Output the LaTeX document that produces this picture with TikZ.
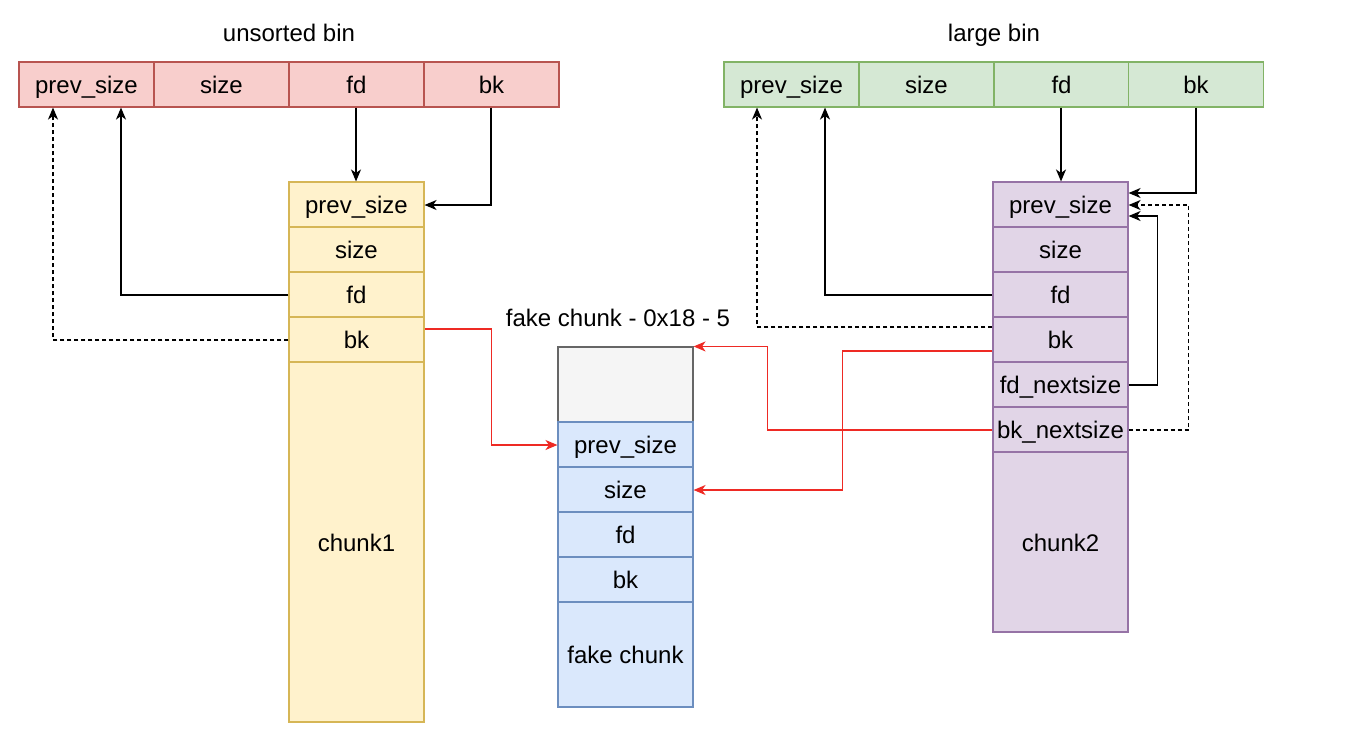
\documentclass[tikz,border=0pt]{standalone}
\usepackage{fontspec}
\setmainfont{Liberation Sans}
\usetikzlibrary{arrows.meta}
\definecolor{redfill}{HTML}{F8CECC}\definecolor{redline}{HTML}{B85450}
\definecolor{greenfill}{HTML}{D5E8D4}\definecolor{greenline}{HTML}{82B366}
\definecolor{yellowfill}{HTML}{FFF2CC}\definecolor{yellowline}{HTML}{D6B656}
\definecolor{bluefill}{HTML}{DAE8FC}\definecolor{blueline}{HTML}{6C8EBF}
\definecolor{grayfill}{HTML}{F5F5F5}\definecolor{grayline}{HTML}{666666}
\definecolor{purplefill}{HTML}{E1D5E7}\definecolor{purpleline}{HTML}{9673A6}
\definecolor{ptr}{HTML}{EE2A24}
\begin{document}
\begin{tikzpicture}[x=1pt,y=-1pt,
  every node/.style={font=\fontsize{24}{27}\selectfont, text height=20pt, text depth=2pt},
  cell/.style={draw, line width=1.1pt, minimum width=135pt, minimum height=45pt, inner sep=0pt, anchor=center},
  ubin/.style={cell, fill=redfill, draw=redline},
  lbin/.style={cell, fill=greenfill, draw=greenline},
  ychunk/.style={cell, fill=yellowfill, draw=yellowline},
  bchunk/.style={cell, fill=bluefill, draw=blueline},
  pchunk/.style={cell, fill=purplefill, draw=purpleline},
  link/.style={line width=1.4pt, -{Stealth[length=12pt,width=10pt,inset=3.5pt]}},
  dlink/.style={link, dash pattern=on 4pt off 3pt},
  rlink/.style={link, draw=ptr, color=ptr},
  title/.style={inner sep=0pt}]
\useasboundingbox (0,0) rectangle (1357,745);
% titles
\node[title] (tu) at (289,32) {unsorted bin};
\node[title] (tl) at (994,32) {large bin};
\node[title] (tf) at (618,317) {fake chunk - 0x18 - 5};
% unsorted bin
\node[ubin] (u1) at (86.5,84.5) {prev\_size};
\node[ubin] (u2) at (221.5,84.5) {size};
\node[ubin] (u3) at (356.5,84.5) {fd};
\node[ubin] (u4) at (491.5,84.5) {bk};
% large bin
\node[lbin] (l1) at (791.5,84.5) {prev\_size};
\node[lbin] (l2) at (926.5,84.5) {size};
\node[lbin] (l3) at (1061.5,84.5) {fd};
\node[lbin] (l4) at (1196,84.5) {bk};
% chunk1
\node[ychunk] (c1a) at (356.5,204.5) {prev\_size};
\node[ychunk] (c1b) at (356.5,249.5) {size};
\node[ychunk] (c1c) at (356.5,294.5) {fd};
\node[ychunk] (c1d) at (356.5,339.5) {bk};
\node[ychunk, minimum height=360pt] (c1e) at (356.5,542) {chunk1};
% fake chunk
\node[cell, fill=grayfill, draw=grayline, minimum height=75pt] (f0) at (625.5,384.5) {};
\node[bchunk] (f1) at (625.5,444.5) {prev\_size};
\node[bchunk] (f2) at (625.5,489.5) {size};
\node[bchunk] (f3) at (625.5,534.5) {fd};
\node[bchunk] (f4) at (625.5,579.5) {bk};
\node[bchunk, minimum height=105pt] (f5) at (625.5,654.5) {fake chunk};
% chunk2
\node[pchunk] (c2a) at (1060.5,204.5) {prev\_size};
\node[pchunk] (c2b) at (1060.5,249.5) {size};
\node[pchunk] (c2c) at (1060.5,294.5) {fd};
\node[pchunk] (c2d) at (1060.5,339.5) {bk};
\node[pchunk] (c2e) at (1060.5,384.5) {fd\_nextsize};
\node[pchunk] (c2f) at (1060.5,429.5) {bk\_nextsize};
\node[pchunk, minimum height=180pt] (c2g) at (1060.5,542) {chunk2};
% unsorted bin links
\draw[link] ([xshift=-0.5pt]u3.south) -- ([xshift=-0.5pt]c1a.north);
\draw[link] ([xshift=-0.5pt]u4.south) |- ([yshift=-0.5pt]c1a.east);
\draw[link] ([yshift=-0.5pt]c1c.west) -| ([xshift=34.5pt]u1.south);
\draw[dlink] ([yshift=-0.5pt]c1d.west) -| ([xshift=-33.5pt]u1.south);
\draw[rlink] ([yshift=10.5pt]c1d.east) -- ++(67,0) |- ([yshift=-0.5pt]f1.west);
% large bin links
\draw[link] ([xshift=-0.5pt]l3.south) -- ([xshift=-0.5pt]l3.south |- c2a.north);
\draw[link] (l4.south) |- ([yshift=11.5pt]c2a.east);
\draw[link] ([yshift=-0.5pt]c2c.west) -| ([xshift=33.5pt]l1.south);
\draw[dlink] ([yshift=12.5pt]c2d.west) -| ([xshift=-34.5pt]l1.south);
\draw[rlink] ([yshift=-11.5pt]c2d.west) -- ++(-150,0) |- ([yshift=-0.5pt]f2.east);
\draw[rlink] ([yshift=-0.5pt]c2f.west) -- ++(-225,0) |- (f0.north east);
\draw[link] ([yshift=-0.5pt]c2e.east) -- ++(29,0) |- ([yshift=-11.5pt]c2a.east);
\draw[dlink] ([yshift=-0.5pt]c2f.east) -- ++(60,0) |- ([yshift=-0.5pt]c2a.east);
\end{tikzpicture}
\end{document}
